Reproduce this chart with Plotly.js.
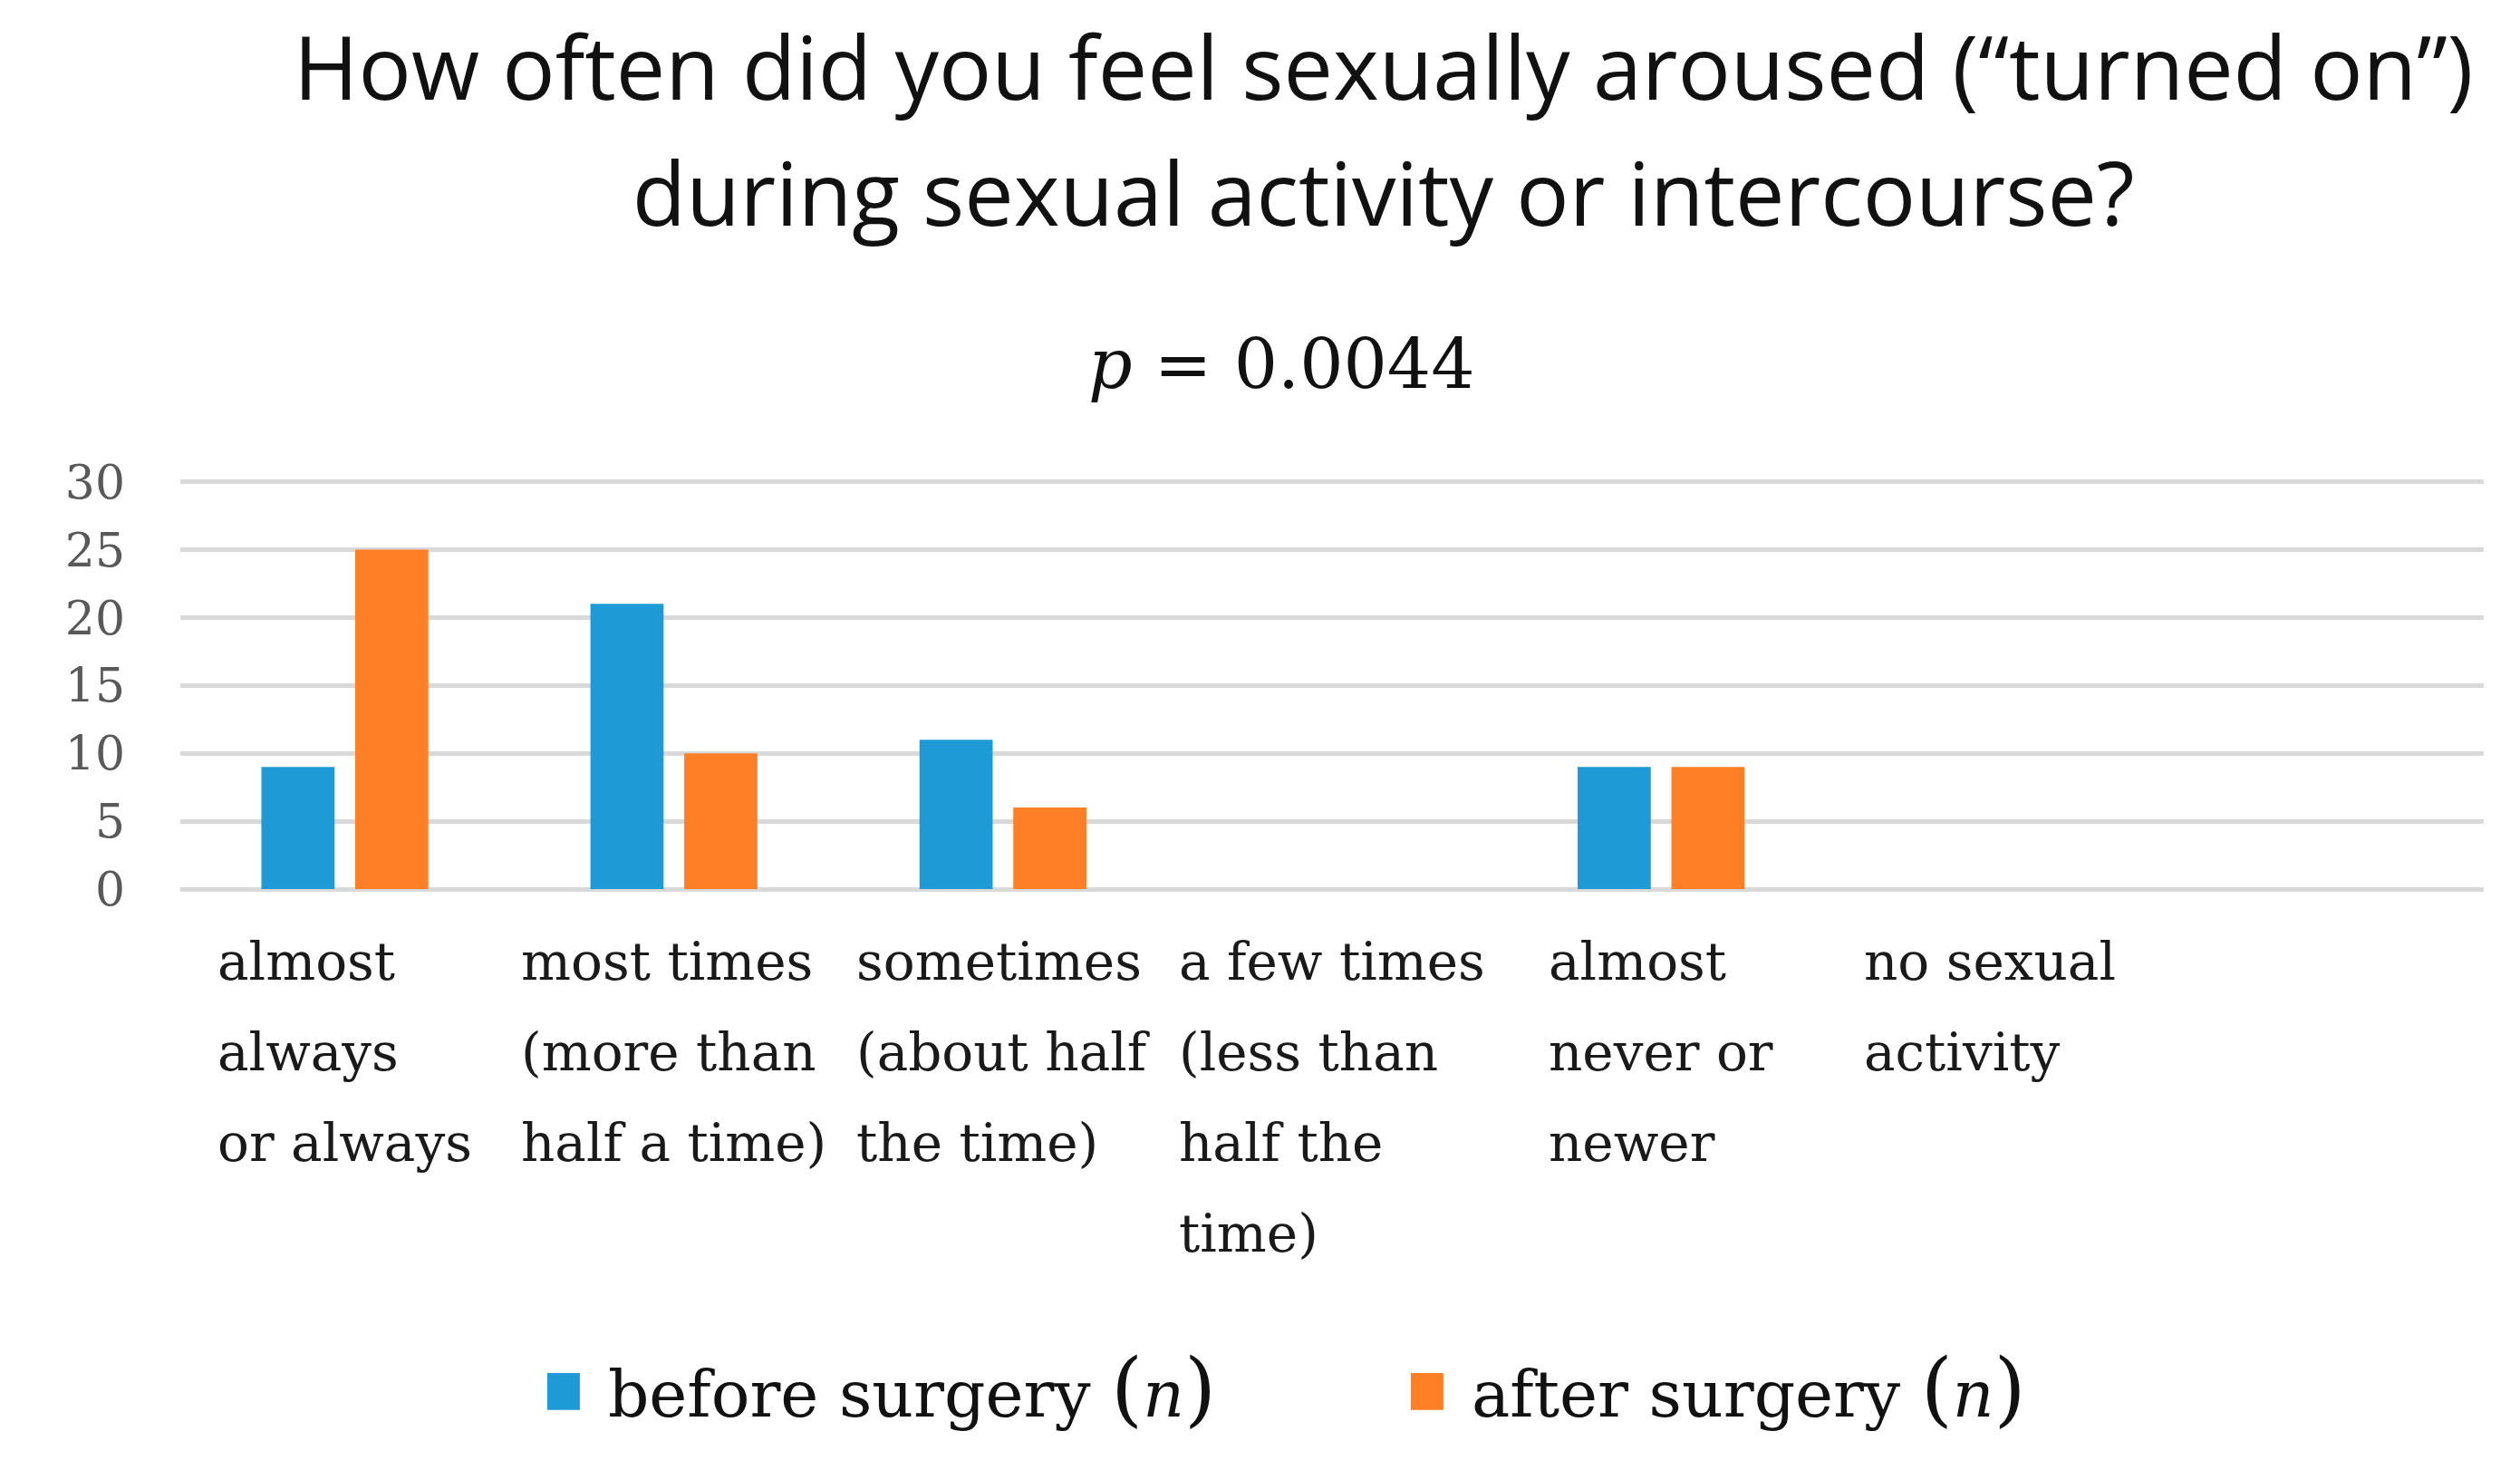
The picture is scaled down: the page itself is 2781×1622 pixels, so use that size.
<!DOCTYPE html>
<html>
<head>
<meta charset="utf-8">
<script src="https://cdn.plot.ly/plotly-3.0.1.min.js"></script>
<style>
  html, body { margin: 0; padding: 0; background: #fff; }
  #chart { width: 2781px; height: 1622px; }
</style>
</head>
<body>
<div id="chart"></div>
<script>
/* ─── Data ────────────────────────────────────────────────────────────────── */
const categories = [
  "almost always or always",
  "most times (more than half a time)",
  "sometimes (about half the time)",
  "a few times (less than half the time)",
  "almost never or newer",
  "no sexual activity",
];
const tickLines = [
  ["almost", "always", "or always"],
  ["most times", "(more than", "half a time)"],
  ["sometimes", "(about half", "the time)"],
  ["a few times", "(less than", "half the", "time)"],
  ["almost", "never or", "newer"],
  ["no sexual", "activity"],
];
const beforeSurgery = [9, 21, 11, 0, 9, 0];
const afterSurgery = [25, 10, 6, 0, 9, 0];
const titleLines = [
  "How often did you feel sexually aroused (“turned on”)",
  "during sexual activity or intercourse?",
];
const pValue = "0.0044";

/* ─── Chart ───────────────────────────────────────────────────────────────── */
const SERIF = "DejaVu Serif, Liberation Serif, serif";
const BLUE = "#1E9BD7";
const ORANGE = "#FF7F27";

// plotly spaces <br> lines at 1.3em of the outer font, so the outer size sets the
// line pitch and an inner span sets the glyph size
const span = (txt, px) => `<span style="font-size:${px}px">${txt}</span>`;
const nLabel = txt => `${txt} ${span("(", 90)}<i>n</i>${span(")", 90)}`;

const traces = [
  { type: "bar", name: nLabel("before surgery"), x: categories, y: beforeSurgery,
    marker: { color: BLUE }, hoverinfo: "y" },
  { type: "bar", name: nLabel("after surgery"), x: categories, y: afterSurgery,
    marker: { color: ORANGE }, hoverinfo: "y" },
];

const annotations = categories.map((c, i) => ({
  x: c, xref: "x", y: 0, yref: "paper",
  xanchor: "center", yanchor: "top", yshift: -44, align: "left",
  showarrow: false,
  text: tickLines[i].map(l => span(l, 58)).join("<br>"),
  font: { family: SERIF, size: 77, color: "#1a1a1a" },
}));
annotations.push({
  x: 0.478, xref: "paper", y: 1.276, yref: "paper",
  xanchor: "center", yanchor: "middle", showarrow: false,
  text: `<i>p</i> = ${pValue}`,
  font: { family: SERIF, size: 76, color: "#111" },
});

const layout = {
  width: 2781, height: 1622,
  paper_bgcolor: "#fff", plot_bgcolor: "#fff",
  // top margin is 4px short and the range runs to 30.3 so the 30 gridline
  // isn't dropped at the plot edge
  margin: { l: 199, r: 40, t: 527, b: 641, pad: 0 },
  title: {
    text: titleLines.map(l => span(l, 97)).join("<br>"),
    font: { family: "Open Sans, Noto Sans, sans-serif", size: 107, color: "#111" },
    x: 0.549, xanchor: "center", xref: "container",
    y: 0.932, yanchor: "middle", yref: "container",
  },
  barmode: "group", bargap: 0.43, bargroupgap: 0.22,
  xaxis: {
    type: "category", range: [-0.5, 6.5],
    showticklabels: false, showgrid: false, zeroline: false, showline: false, ticks: "",
  },
  yaxis: {
    range: [0, 30.3], dtick: 5, fixedrange: true,
    showgrid: true, gridcolor: "#d9d9d9", gridwidth: 5,
    zeroline: true, zerolinecolor: "#d9d9d9", zerolinewidth: 5,
    showline: false, ticks: "", ticklabelstandoff: 60,
    tickfont: { family: SERIF, size: 52, color: "#595959" },
  },
  legend: {
    orientation: "h", x: 0.533, xanchor: "center", xref: "paper",
    y: -1.222, yanchor: "middle", yref: "paper",
    font: { family: SERIF, size: 71, color: "#111" },
    itemwidth: 60, entrywidth: 878, traceorder: "normal",
    bgcolor: "rgba(0,0,0,0)",
  },
  annotations: annotations,
  showlegend: true,
};

Plotly.newPlot("chart", traces, layout, { displayModeBar: false, staticPlot: true }).then(gd => {
  // the bar legend swatch is fixed at 12px, blow it up to the reference size
  gd.querySelectorAll(".legendpoints path").forEach(p => {
    p.setAttribute("transform", "translate(-14,0) " + (p.getAttribute("transform") || "") + " scale(3,3.4)");
  });
});
</script>
</body>
</html>
